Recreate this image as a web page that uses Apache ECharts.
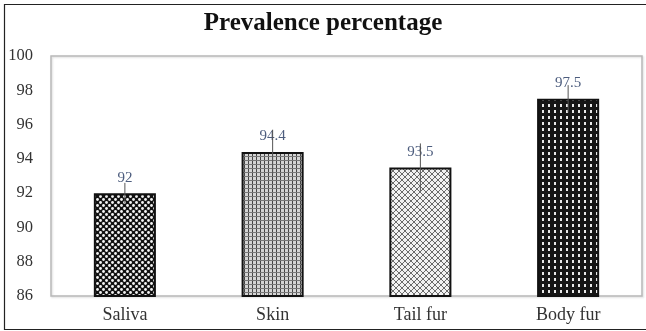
<!DOCTYPE html>
<html>
<head>
<meta charset="utf-8">
<script src="https://cdn.jsdelivr.net/npm/echarts@6/dist/echarts.min.js"></script>
<style>
  html, body { margin: 0; padding: 0; background: #fff; }
  #chart { width: 646px; height: 331px; }
</style>
</head>
<body>
<div id="chart"></div>
<script>
// Sample types and their prevalence (%)
const categories = ['Saliva', 'Skin', 'Tail fur', 'Body fur'];
const prevalence = [92, 94.4, 93.5, 97.5];
// Half-length of the error whisker for each bar (percentage points)
const errors = [0.6, 1.3, 1.4, 0.8];
const yTicks = [86, 88, 90, 92, 94, 96, 98, 100];

// Pattern tiles for the bar fills
function tile(w, h, draw) {
  const c = document.createElement('canvas');
  c.width = w; c.height = h;
  const g = c.getContext('2d');
  draw(g, w, h);
  return { image: c, repeat: 'repeat' };
}
const patterns = [
  // staggered white dots on black
  tile(6, 6, (g) => {
    g.fillStyle = '#111'; g.fillRect(0, 0, 6, 6);
    g.fillStyle = '#f4f4f4';
    g.beginPath(); g.arc(1.5, 1.5, 1.4, 0, Math.PI * 2); g.fill();
    g.beginPath(); g.arc(4.5, 4.5, 1.4, 0, Math.PI * 2); g.fill();
  }),
  // fine plaid grid
  tile(4, 4, (g) => {
    g.fillStyle = '#d4d4d4'; g.fillRect(0, 0, 4, 4);
    g.fillStyle = '#444'; g.fillRect(0, 0, 1, 4);
    g.fillStyle = '#777'; g.fillRect(0, 0, 4, 1);
  }),
  // light diagonal cross-hatch
  tile(6, 6, (g) => {
    g.fillStyle = '#f2f2f2'; g.fillRect(0, 0, 6, 6);
    g.strokeStyle = '#6a6a6a'; g.lineWidth = 1;
    g.beginPath();
    g.moveTo(0, 0); g.lineTo(6, 6);
    g.moveTo(6, 0); g.lineTo(0, 6);
    g.stroke();
  }),
  // small white squares on black
  tile(6, 6, (g) => {
    g.fillStyle = '#151515'; g.fillRect(0, 0, 6, 6);
    g.fillStyle = '#e8e8e8'; g.fillRect(2, 2, 2, 3);
  })
];

const chart = echarts.init(document.getElementById('chart'));
const serif = '"Liberation Serif", "DejaVu Serif", serif';

chart.setOption({
  animation: false,
  backgroundColor: '#fff',
  title: {
    text: 'Prevalence percentage',
    left: 'center',
    top: 6,
    textStyle: { fontFamily: serif, fontSize: 25, fontWeight: 'bold', color: '#111' }
  },
  graphic: [{
    type: 'rect',
    shape: { x: 4.5, y: 4.5, width: 660, height: 325 },
    style: { fill: 'none', stroke: '#222', lineWidth: 1.2 },
    silent: true
  }],
  grid: {
    left: 51, right: 4, top: 56, bottom: 35,
    show: true, borderColor: '#b8b8b8', borderWidth: 1.5,
    shadowColor: 'rgba(0,0,0,0.15)', shadowBlur: 2, shadowOffsetX: 1, shadowOffsetY: 1
  },
  xAxis: {
    type: 'category',
    data: categories,
    axisLine: { show: false },
    axisTick: { show: false },
    axisLabel: { fontFamily: serif, fontSize: 18, color: '#333', margin: 10 }
  },
  yAxis: {
    type: 'value',
    min: yTicks[0], max: yTicks[yTicks.length - 1], interval: 2,
    splitLine: { show: false },
    axisLine: { show: false },
    axisTick: { show: false },
    axisLabel: { fontFamily: serif, fontSize: 16.5, color: '#333', margin: 18 }
  },
  series: [
    {
      type: 'bar',
      barWidth: '42%',
      data: prevalence.map((v, i) => ({
        value: v,
        itemStyle: { color: patterns[i], borderColor: '#111', borderWidth: 2 }
      })),
      label: {
        show: true, position: 'top', distance: 8,
        fontFamily: serif, fontSize: 15, color: '#4d5d7e'
      },
      z: 2
    },
    {
      type: 'custom',
      z: 3,
      data: prevalence.map((v, i) => [i, v, errors[i]]),
      renderItem: (params, api) => {
        const top = api.coord([api.value(0), api.value(1) + api.value(2)]);
        const bot = api.coord([api.value(0), api.value(1) - api.value(2)]);
        return {
          type: 'line',
          shape: { x1: top[0], y1: top[1], x2: bot[0], y2: bot[1] },
          style: { stroke: '#555', lineWidth: 1 }
        };
      }
    }
  ]
});
</script>
</body>
</html>
